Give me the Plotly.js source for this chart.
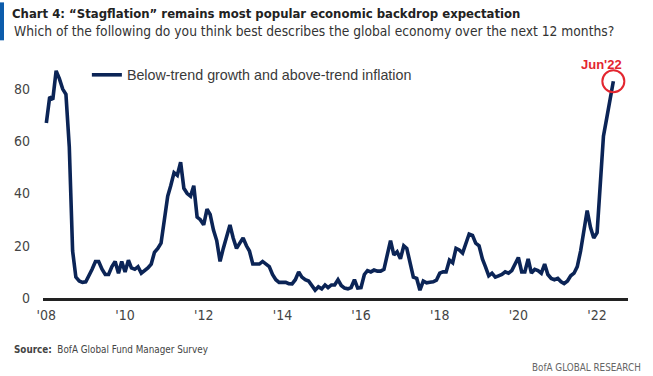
<!DOCTYPE html>
<html>
<head>
<meta charset="utf-8">
<script src="https://cdn.plot.ly/plotly-3.0.1.min.js"></script>
<style>
  html, body { margin: 0; padding: 0; background: #fff; }
  #chart { width: 653px; height: 376px; }
</style>
</head>
<body>
<div id="chart"></div>
<script>
// ---- Data (monthly, Jan 2008 - Jun 2022), % of FMS respondents ----
const seriesName = "Below-trend growth and above-trend inflation";
const startYear = 2008;
const v2008 = [67, 77, 76, 87, 84, 80, 78, 58, 18, 8, 6.5, 6];
const v2009 = [6.2, 8.5, 11, 14, 14, 11, 9, 9, 12, 14, 9.5, 14];
const v2010 = [10, 14.5, 11.5, 11, 12, 9.5, 10.5, 11.5, 13, 17.5, 19, 21];
const v2011 = [30, 39, 43, 48, 47, 52, 42, 40, 39, 43, 31, 30];
const v2012 = [28, 34, 32, 26, 22, 14, 19, 24, 28, 23, 19, 21];
const v2013 = [23, 20, 18, 13, 13, 13, 14, 13, 12, 9, 7, 6];
const v2014 = [6, 6, 5.5, 5.4, 7, 10, 8, 7, 6.5, 5, 3, 4.3];
const v2015 = [3.5, 5, 4, 5, 5, 7, 4.8, 3.8, 3.5, 4, 7, 3.8];
const v2016 = [4, 9, 10.5, 10, 10.7, 10.3, 10.3, 11, 16, 22, 16.5, 17.7];
const v2017 = [15, 20, 19, 13, 8, 7.5, 3, 6.5, 5.8, 6, 6.2, 6.8];
const v2018 = [9.5, 10, 10, 14.5, 13.5, 19, 18.4, 17.2, 20.5, 24.5, 24, 21];
const v2019 = [20, 15, 12, 8.5, 9.5, 8, 8.5, 9, 10, 9.5, 10.5, 13];
const v2020 = [15.5, 10, 10, 15, 9.5, 11, 10.5, 9.5, 13, 9, 7.5, 7];
const v2021 = [7.5, 6.2, 5.5, 6.5, 8.5, 9.5, 12, 18, 27, 33.5, 27, 23];
const v2022 = [25, 44, 62, 69, 76, 83];
const values = [].concat(v2008, v2009, v2010, v2011, v2012, v2013, v2014,
  v2015, v2016, v2017, v2018, v2019, v2020, v2021, v2022);

const tickYears = [2008, 2010, 2012, 2014, 2016, 2018, 2020, 2022];
const tickLabels = ["'08", "'10", "'12", "'14", "'16", "'18", "'20", "'22"];
const yTicks = [0, 20, 40, 60, 80];
const highlightLabel = "Jun'22";

// month dates
const dates = values.map((_, i) => {
  const y = startYear + Math.floor(i / 12);
  const m = (i % 12) + 1;
  return y + "-" + String(m).padStart(2, "0") + "-01";
});
const tickVals = tickYears.map(y => y + "-01-01");
const lastDate = dates[dates.length - 1];
const lastVal = values[values.length - 1];

const NAVY = "#0b2456";
const RED = "#e3262f";
const TXT = "#3a3a3a";
const NARROW = "'DejaVu Sans Condensed', 'Liberation Sans Narrow', sans-serif";
const REG = "'Liberation Sans', Arial, sans-serif";

const traces = [
  {
    x: dates, y: values, type: "scatter", mode: "lines",
    name: seriesName,
    line: { color: NAVY, width: 3.6, shape: "linear" },
    hoverinfo: "x+y"
  },
  {
    x: [lastDate], y: [lastVal], type: "scatter", mode: "markers",
    showlegend: false,
    marker: { symbol: "circle-open", size: 22, color: RED, line: { color: RED, width: 2 } },
    hoverinfo: "skip"
  }
];

const layout = {
  width: 653, height: 376,
  margin: { l: 43, r: 25, t: 63, b: 78 },
  paper_bgcolor: "#fff", plot_bgcolor: "#fff",
  showlegend: true,
  title: {
    text: "<b>Chart 4: “Stagflation” remains most popular economic backdrop expectation</b>",
    font: { family: NARROW, size: 13, color: "#222" },
    xref: "container", yref: "container",
    x: 12 / 653, xanchor: "left", y: 1 - 13 / 376, yanchor: "middle"
  },
  legend: {
    x: 0.075, y: 1.017, xanchor: "left", yanchor: "top",
    bgcolor: "rgba(0,0,0,0)",
    font: { family: REG, size: 14.3, color: TXT }
  },
  xaxis: {
    type: "date",
    range: ["2007-12-01", "2022-10-15"],
    tickvals: tickVals, ticktext: tickLabels,
    showgrid: false, zeroline: false,
    showline: true, linecolor: "#222", linewidth: 3,
    ticks: "",
    tickfont: { family: NARROW, size: 14, color: "#444" },
    ticklabelstandoff: 2,
    fixedrange: true
  },
  yaxis: {
    range: [0, 90],
    tickvals: yTicks,
    showgrid: false, zeroline: false, showline: false,
    ticks: "",
    tickfont: { family: NARROW, size: 14, color: "#444" },
    ticklabelstandoff: 12,
    fixedrange: true
  },
  shapes: [
    { type: "rect", xref: "paper", yref: "paper",
      x0: -43 / 585, x1: -39 / 585, y0: (298 - 40) / 235.3, y1: (298 - 2) / 235.3,
      fillcolor: "#0d5cab", line: { width: 0 } }
  ],
  annotations: [
    { text: "Which of the following do you think best describes the global economy over the next 12 months?",
      xref: "paper", yref: "paper", x: -31 / 585, y: (298 - 31) / 235.3,
      xanchor: "left", yanchor: "middle", showarrow: false,
      font: { family: NARROW, size: 13.7, color: "#333" } },
    { text: highlightLabel, x: lastDate, y: lastVal, xref: "x", yref: "y",
      showarrow: false, xshift: -12, yshift: 17,
      font: { family: REG, size: 13, color: RED, weight: "bold" } },
    { text: "<b>Source:</b>  BofA Global Fund Manager Survey",
      xref: "paper", yref: "paper", x: -31 / 585, y: -(350 - 298) / 235.3,
      xanchor: "left", yanchor: "middle", showarrow: false,
      font: { family: NARROW, size: 9.8, color: "#444" } },
    { text: "BofA GLOBAL RESEARCH",
      xref: "paper", yref: "paper", x: (643 - 43) / 585, y: -(368 - 298) / 235.3,
      xanchor: "right", yanchor: "middle", showarrow: false,
      font: { family: NARROW, size: 9.8, color: "#666" } }
  ]
};

Plotly.newPlot("chart", traces, layout, { displayModeBar: false, staticPlot: true });
</script>
</body>
</html>
